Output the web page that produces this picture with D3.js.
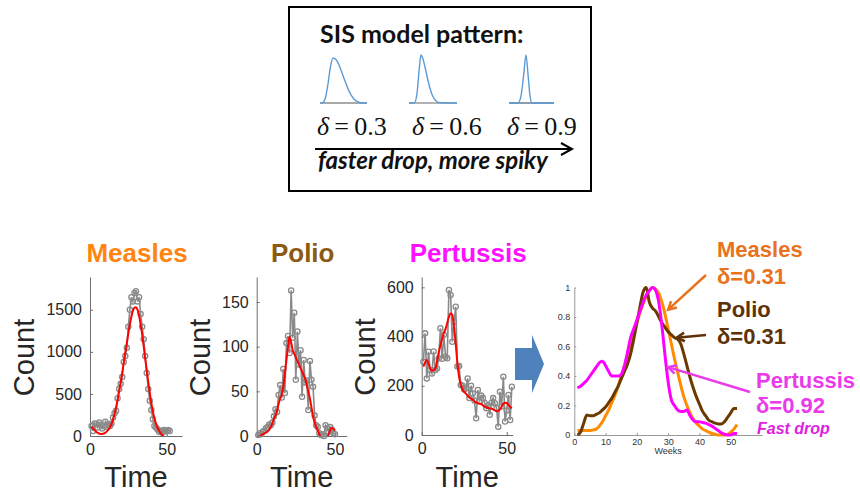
<!DOCTYPE html>
<html>
<head>
<meta charset="utf-8">
<script src="https://cdn.jsdelivr.net/npm/d3@7"></script>
<style>
  body { margin: 0; background: #fff; }
  svg { display: block; }
  text { font-family: "Liberation Sans", Arial, sans-serif; }
</style>
</head>
<body>
<div id="container"></div>
<script>
/* DATA */
// weekly counts (week = index + 1)
const measlesCounts = [120,60,150,140,100,160,130,90,120,170,110,140,120,150,220,270,300,450,560,620,700,880,950,1050,1300,1500,1650,1600,1700,1720,1600,1650,1450,1300,1150,950,750,560,420,310,200,120,100,80,50,60,40,70,60,55,70,60];
const measlesFit = [110,90,70,50,38,30,25,25,30,40,55,75,100,140,190,260,340,430,530,640,750,870,990,1100,1220,1330,1420,1490,1525,1530,1500,1430,1330,1210,1070,920,780,640,510,390,290,210,150,100,65,35,15,0];

const polioCounts = [1,3,2,5,6,9,10,13,12,15,22,30,27,46,57,43,75,48,104,112,93,163,110,138,63,117,80,96,44,85,60,62,29,84,63,55,23,12,10,3,1,2,0,12,9,5,10,7,3,2];
const polioFit = [null,0,1,2,3,4,5,7,10,14,19,23,28,36,42,46,55,70,85,100,111,105,96,92,88,84,80,76,72,68,64,57,49,42,32,22,15,10,6,2,-2,-6,-8,-6,-2,2,7,9,8,6];

const pertussisCounts = [298,413,230,338,264,250,339,264,270,312,434,310,407,318,312,589,569,379,460,521,278,280,203,200,185,190,230,150,200,169,140,68,183,136,160,150,130,109,120,82,130,150,129,110,34,176,116,237,55,100,163,61,196];
const pertussisFit = [278,295,305,290,270,262,263,270,300,335,365,390,415,430,455,480,495,488,440,370,290,235,205,185,175,168,160,152,148,143,137,132,130,128,125,120,115,112,110,108,108,104,100,96,98,104,115,127,131,130,122,115,108];

// normalized fitted curves, weeks 1..52
const measlesNorm = [0.03,0.03,0.03,0.03,0.03,0.035,0.04,0.06,0.09,0.13,0.17,0.22,0.27,0.33,0.4,0.46,0.52,0.6,0.69,0.76,0.83,0.89,0.94,0.98,1,0.99,0.96,0.9,0.82,0.72,0.62,0.52,0.43,0.34,0.26,0.2,0.15,0.11,0.08,0.06,0.04,0.03,0.02,0.01,0.005,0,0,0,0.005,0.02,0.04,0.07];
const polioNorm = [0,0.02,0.08,0.135,0.13,0.13,0.14,0.15,0.17,0.19,0.22,0.25,0.29,0.33,0.38,0.43,0.48,0.55,0.65,0.76,0.87,0.97,1,0.9,0.86,0.84,0.8,0.76,0.73,0.7,0.68,0.66,0.65,0.62,0.55,0.47,0.39,0.32,0.26,0.21,0.16,0.13,0.1,0.09,0.08,0.075,0.075,0.09,0.12,0.15,0.18,0.18];
const pertussisNorm = [0.32,0.33,0.35,0.37,0.4,0.43,0.46,0.49,0.5,0.47,0.43,0.4,0.4,0.4,0.41,0.47,0.56,0.66,0.72,0.78,0.84,0.9,0.95,0.98,1,0.98,0.9,0.74,0.54,0.36,0.24,0.2,0.17,0.16,0.16,0.17,0.13,0.1,0.09,0.09,0.085,0.08,0.07,0.06,0.045,0.03,0.015,0.005,0,0,0.01,0.01];

// SIS model sketches in the top box
const sisX03 = [0,1,2,3,4,5,6,7,8,9,10,11,12,13,14,15,16,18];
const sisY03 = [0,0.01,0.1,0.4,0.8,1,0.97,0.88,0.74,0.58,0.42,0.28,0.17,0.09,0.04,0.015,0,0];
const sisX06 = [0,2,3,4,4.5,5,6,7,8,9,10,11,18];
const sisY06 = [0,0,0.2,0.8,1,0.96,0.75,0.5,0.28,0.13,0.05,0.01,0];
const sisX09 = [0,3.6,4.8,5.8,6.8,7.6,8.4,9.2,18];
const sisY09 = [0,0,0.15,0.55,1,0.6,0.15,0,0];
const deltaLabels = ["0.3", "0.6", "0.9"];

const diseases = ["Measles", "Polio", "Pertussis"];
const deltas = ["0.31", "0.31", "0.92"];

/* CONSTANTS */
const width = 860, height = 493;

const svg = d3.select("#container")
  .append("svg")
  .attr("width", width)
  .attr("height", height);

svg.append("rect").attr("width", width).attr("height", height).attr("fill", "#fff");

/* TOP BOX */
svg.append("rect")
  .attr("x", 289).attr("y", 7)
  .attr("width", 302).attr("height", 184)
  .attr("fill", "none")
  .attr("stroke", "#000")
  .attr("stroke-width", 2);

svg.append("text")
  .attr("x", 320).attr("y", 43)
  .style("font-family", "Lato, 'Open Sans', sans-serif")
  .style("font-weight", "bold")
  .style("font-size", "25px")
  .attr("fill", "#111")
  .text("SIS model pattern:");

const sketches = [
  { xs: sisX03, ys: sisY03, left: 320, right: 367, peak: 58, base: "#555", tx: 317 },
  { xs: sisX06, ys: sisY06, left: 409, right: 457, peak: 55, base: "#666", tx: 412 },
  { xs: sisX09, ys: sisY09, left: 509, right: 554, peak: 55, base: "#1f3a5a", tx: 507 }
];

sketches.forEach((s, i) => {
  const sx = d3.scaleLinear().domain([0, 18]).range([s.left, s.right]);
  const sy = d3.scaleLinear().domain([0, 1]).range([103, s.peak]);
  svg.append("line")
    .attr("x1", sx(0)).attr("x2", sx(18))
    .attr("y1", sy(0)).attr("y2", sy(0))
    .attr("stroke", s.base).attr("stroke-width", 1.2);
  svg.append("path")
    .datum(s.xs.map((x, j) => [x, s.ys[j]]))
    .attr("fill", "none")
    .attr("stroke", "#5b9bd5")
    .attr("stroke-width", 1.4)
    .attr("d", d3.line().x(d => sx(d[0])).y(d => sy(d[1])).curve(d3.curveMonotoneX));

  const t = svg.append("text")
    .attr("x", s.tx).attr("y", 135)
    .style("font-family", "'Liberation Serif', 'DejaVu Serif', serif")
    .style("font-size", "26px")
    .attr("fill", "#111");
  t.append("tspan").style("font-style", "italic").text("\u03b4");
  t.append("tspan").text("\u2009=\u2009" + deltaLabels[i]);
});

// arrow in the box
svg.append("line")
  .attr("x1", 315).attr("x2", 571)
  .attr("y1", 149).attr("y2", 149)
  .attr("stroke", "#000").attr("stroke-width", 2);
svg.append("path")
  .attr("d", "M561,143 L572,149 L561,155")
  .attr("fill", "none").attr("stroke", "#000").attr("stroke-width", 2);

svg.append("text")
  .attr("x", 318).attr("y", 169)
  .style("font-family", "Lato, 'Open Sans', sans-serif")
  .style("font-weight", "bold")
  .style("font-style", "italic")
  .style("font-size", "24px")
  .attr("fill", "#111")
  .text("faster drop, more spiky");

/* SMALL PANELS */
const panels = [
  { name: diseases[0], color: "#ff8410", counts: measlesCounts, fit: measlesFit,
    left: 90, right: 182, top: 277, bottom: 436, xMax: 60, yMax: 1890,
    yTicks: [0, 500, 1000, 1500], labelOffset: 56 },
  { name: diseases[1], color: "#8c5a12", counts: polioCounts, fit: polioFit,
    left: 256.7, right: 346.7, top: 277, bottom: 436, xMax: 57.5, yMax: 178,
    yTicks: [0, 50, 100, 150], labelOffset: 47 },
  { name: diseases[2], color: "#ff10ff", counts: pertussisCounts, fit: pertussisFit,
    left: 421.7, right: 512.7, top: 277, bottom: 435, xMax: 53.5, yMax: 642,
    yTicks: [0, 200, 400, 600], labelOffset: 47 }
];

panels.forEach((p, k) => {
  const x = d3.scaleLinear().domain([0, p.xMax]).range([p.left, p.right]);
  const y = d3.scaleLinear().domain([0, p.yMax]).range([p.bottom, p.top]);
  const g = svg.append("g");

  g.append("clipPath").attr("id", "clip" + k)
    .append("rect")
    .attr("x", p.left).attr("y", p.top)
    .attr("width", p.right - p.left).attr("height", p.bottom - p.top);

  const xAxis = g.append("g")
    .attr("transform", `translate(0,${p.bottom})`)
    .call(d3.axisBottom(x).tickValues([0, 50]).tickFormat(d3.format("d")).tickSizeInner(-3).tickSizeOuter(0).tickPadding(8));
  const yAxis = g.append("g")
    .attr("transform", `translate(${p.left},0)`)
    .call(d3.axisLeft(y).tickValues(p.yTicks).tickFormat(d3.format("d")).tickSizeInner(-3).tickSizeOuter(0).tickPadding(8));

  [xAxis, yAxis].forEach(a => {
    a.select(".domain").attr("stroke", "#6e6e6e");
    a.selectAll(".tick line").attr("stroke", "#6e6e6e");
    a.selectAll("text")
      .attr("fill", "#262626")
      .style("font-size", "16px")
      .style("font-family", "'Liberation Sans', Arial, sans-serif");
  });

  const pts = p.counts.map((v, i) => [i + 1, v]);

  g.append("path")
    .datum(pts)
    .attr("fill", "none")
    .attr("stroke", "#8a8a8a")
    .attr("stroke-width", 1.6)
    .attr("d", d3.line().x(d => x(d[0])).y(d => y(d[1])));

  g.selectAll("circle")
    .data(pts)
    .join("circle")
    .attr("cx", d => x(d[0]))
    .attr("cy", d => y(d[1]))
    .attr("r", 2.6)
    .attr("fill", "none")
    .attr("stroke", "#8a8a8a")
    .attr("stroke-width", 1.3);

  g.append("path")
    .datum(p.fit.map((v, i) => [i + 1, v]))
    .attr("clip-path", `url(#clip${k})`)
    .attr("fill", "none")
    .attr("stroke", "#ff0000")
    .attr("stroke-width", 2)
    .attr("d", d3.line()
      .defined(d => d[1] !== null)
      .x(d => x(d[0])).y(d => y(d[1]))
      .curve(d3.curveMonotoneX));

  // labels
  g.append("text")
    .attr("transform", `translate(${p.left - p.labelOffset},${(p.top + p.bottom) / 2 + 1}) rotate(-90)`)
    .attr("text-anchor", "middle")
    .style("font-size", "29px")
    .attr("fill", "#262626")
    .text("Count");

  g.append("text")
    .attr("x", (p.left + p.right) / 2)
    .attr("y", 487)
    .attr("text-anchor", "middle")
    .style("font-size", "29px")
    .attr("fill", "#262626")
    .text("Time");

  g.append("text")
    .attr("x", (p.left + p.right) / 2 + 1)
    .attr("y", 262)
    .attr("text-anchor", "middle")
    .style("font-size", "26px")
    .style("font-weight", "bold")
    .attr("fill", p.color)
    .text(p.name);
});

/* BLUE ARROW */
svg.append("path")
  .attr("d", "M515,348 L532,348 L532,335 L544,364 L532,393 L532,380 L515,380 Z")
  .attr("fill", "#4f81bd");

/* NORMALIZED COMPARISON */
const nx = d3.scaleLinear().domain([0, 60]).range([574.3, 762]);
const ny = d3.scaleLinear().domain([0, 1]).range([435, 287.5]);

const nxAxis = svg.append("g")
  .attr("transform", "translate(0,435)")
  .call(d3.axisBottom(nx).tickValues([0, 10, 20, 30, 40, 50]).tickSizeInner(-2).tickSizeOuter(0).tickPadding(4));
const nyAxis = svg.append("g")
  .attr("transform", "translate(574.3,0)")
  .call(d3.axisLeft(ny).tickValues([0, 0.2, 0.4, 0.6, 0.8, 1]).tickFormat(d3.format("~g")).tickSizeInner(-2).tickSizeOuter(0).tickPadding(4));

[nxAxis, nyAxis].forEach(a => {
  a.select(".domain").attr("stroke", "#999");
  a.selectAll(".tick line").attr("stroke", "#999");
  a.selectAll("text")
    .attr("fill", "#333")
    .style("font-size", "9px")
    .style("font-family", "'Liberation Sans', Arial, sans-serif");
});

svg.append("text")
  .attr("x", nx(30)).attr("y", 454)
  .attr("text-anchor", "middle")
  .style("font-size", "9px")
  .attr("fill", "#333")
  .text("Weeks");

const normSeries = [
  { values: measlesNorm, color: "#ff8c00" },
  { values: polioNorm, color: "#6b3a00" },
  { values: pertussisNorm, color: "#ff00ff" }
];

normSeries.forEach(s => {
  svg.append("path")
    .datum(s.values.map((v, i) => [i + 1, v]))
    .attr("fill", "none")
    .attr("stroke", s.color)
    .attr("stroke-width", 3)
    .attr("stroke-linejoin", "round")
    .attr("d", d3.line().x(d => nx(d[0])).y(d => ny(d[1])).curve(d3.curveMonotoneX));
});

/* ANNOTATIONS */
const notes = [
  { name: diseases[0], delta: deltas[0], color: "#e8731c", tx: 717, ty: 257, gap: 27, from: [706, 275], to: [30, 0.85] },
  { name: diseases[1], delta: deltas[1], color: "#5e3208", tx: 717, ty: 317, gap: 27, from: [706, 335], to: [32.7, 0.66] },
  { name: diseases[2], delta: deltas[2], color: "#ea3aea", tx: 756, ty: 388, gap: 25, from: [750, 392], to: [30, 0.46] }
];

notes.forEach((n, i) => {
  const x2 = nx(n.to[0]), y2 = ny(n.to[1]);
  const ang = Math.atan2(y2 - n.from[1], x2 - n.from[0]);
  svg.append("line")
    .attr("x1", n.from[0]).attr("y1", n.from[1])
    .attr("x2", x2).attr("y2", y2)
    .attr("stroke", n.color).attr("stroke-width", 2.5);
  const L = 9, spread = 0.5;
  const p1 = [x2 - L * Math.cos(ang - spread), y2 - L * Math.sin(ang - spread)];
  const p2 = [x2 - L * Math.cos(ang + spread), y2 - L * Math.sin(ang + spread)];
  svg.append("path")
    .attr("d", `M${p1[0]},${p1[1]} L${x2},${y2} L${p2[0]},${p2[1]}`)
    .attr("fill", "none")
    .attr("stroke", n.color)
    .attr("stroke-width", 2.5);

  svg.append("text")
    .attr("x", n.tx).attr("y", n.ty)
    .style("font-size", "22px").style("font-weight", "bold")
    .attr("fill", n.color)
    .text(n.name);
  svg.append("text")
    .attr("x", n.tx).attr("y", n.ty + n.gap)
    .style("font-size", "22px").style("font-weight", "bold")
    .attr("fill", n.color)
    .text("\u03b4=" + n.delta);
});

svg.append("text")
  .attr("x", 757).attr("y", 434)
  .style("font-size", "16px").style("font-weight", "bold").style("font-style", "italic")
  .attr("fill", "#e020e0")
  .text("Fast drop");
</script>
</body>
</html>
